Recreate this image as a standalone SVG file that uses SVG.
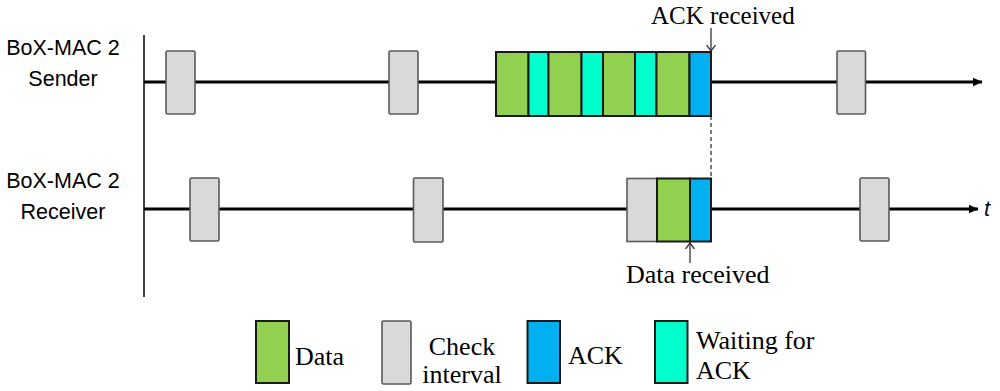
<svg xmlns="http://www.w3.org/2000/svg" width="1000" height="391" viewBox="0 0 1000 391">
<defs>
<style>
.lbl{font-family:"Liberation Sans",Arial,sans-serif;font-size:21.5px;fill:#000;text-anchor:middle}
.ser{font-family:"Liberation Serif","Times New Roman",serif;fill:#000}
.chk{fill:#d9d9d9;stroke:#595959;stroke-width:1.6}
.dat{fill:#92d050;stroke:#1a1a1a;stroke-width:2}
.wait{fill:#00ffcc;stroke:#1a1a1a;stroke-width:2}
.ack{fill:#00b0f0;stroke:#1a1a1a;stroke-width:2}
.axis{stroke:#000;stroke-width:3;fill:none}
.thin{stroke:#333;stroke-width:1.3;fill:none}
</style>
<marker id="tip" markerWidth="10" markerHeight="10" refX="9" refY="5" orient="auto" markerUnits="userSpaceOnUse">
<path d="M0,0.8 L9.5,5 L0,9.2 Z" fill="#000"/>
</marker>
<marker id="open" markerWidth="12" markerHeight="12" refX="6" refY="6" orient="auto" markerUnits="userSpaceOnUse">
<path d="M0,1.5 L6,6 L0,10.5" fill="none" stroke="#333" stroke-width="1.3"/>
</marker>
</defs>
<rect width="1000" height="391" fill="#fff"/>

<g id="labels">
<text class="lbl" x="63" y="55">BoX-MAC 2</text>
<text class="lbl" x="63" y="86">Sender</text>
<text class="lbl" x="63" y="188">BoX-MAC 2</text>
<text class="lbl" x="63" y="219">Receiver</text>
</g>

<g id="connectors">
<line x1="144" y1="35" x2="144" y2="297" stroke="#000" stroke-width="1.5"/>
<line class="axis" x1="144" y1="82" x2="982" y2="82" marker-end="url(#tip)"/>
<line class="axis" x1="144" y1="209" x2="978" y2="209" marker-end="url(#tip)"/>
<line x1="711" y1="116" x2="711" y2="242" stroke="#333" stroke-width="1.3" stroke-dasharray="4,3"/>
<line class="thin" x1="711" y1="28" x2="711" y2="51" marker-end="url(#open)"/>
<line class="thin" x1="690" y1="263" x2="690" y2="243" marker-end="url(#open)"/>
</g>

<g id="sender">
<rect class="chk" x="166" y="51" width="29" height="63" rx="1.5"/>
<rect class="chk" x="389" y="51" width="29" height="63" rx="1.5"/>
<rect class="dat" x="496" y="52" width="32.5" height="64"/>
<rect class="wait" x="528.5" y="52" width="20" height="64"/>
<rect class="dat" x="548.5" y="52" width="33" height="64"/>
<rect class="wait" x="581.5" y="52" width="21.5" height="64"/>
<rect class="dat" x="603" y="52" width="32" height="64"/>
<rect class="wait" x="635" y="52" width="21.5" height="64"/>
<rect class="dat" x="656.5" y="52" width="33" height="64"/>
<rect class="ack" x="689.5" y="52" width="21.5" height="64"/>
<rect class="chk" x="837" y="51" width="28.5" height="63" rx="1.5"/>
</g>

<g id="receiver">
<rect class="chk" x="190" y="178" width="29" height="63" rx="1.5"/>
<rect class="chk" x="413.5" y="178" width="29.5" height="64" rx="1.5"/>
<rect class="chk" x="627" y="178.5" width="30" height="63"/>
<rect class="dat" x="657" y="178.5" width="33" height="63"/>
<rect class="ack" x="690" y="178.5" width="21" height="63"/>
<rect class="chk" x="860" y="178" width="29" height="63" rx="1.5"/>
<text x="984" y="216" font-family="'Liberation Sans',Arial,sans-serif" font-size="22" font-style="italic" fill="#0a0a28">t</text>
</g>

<g id="annotations">
<text class="ser" x="651" y="24" font-size="25">ACK received</text>
<text class="ser" x="626" y="283" font-size="26">Data received</text>
</g>

<g id="legend">
<rect class="dat" x="256" y="321" width="33" height="62" stroke="#555"/>
<text class="ser" x="295" y="365" font-size="26">Data</text>
<rect class="chk" x="382" y="321" width="29" height="63" rx="1.5"/>
<text class="ser" x="462" y="355" font-size="26" text-anchor="middle">Check</text>
<text class="ser" x="462" y="383" font-size="26" text-anchor="middle">interval</text>
<rect class="ack" x="527.5" y="321" width="32.5" height="62" stroke="#555"/>
<text class="ser" x="568" y="364" font-size="26">ACK</text>
<rect class="wait" x="655" y="321" width="32.5" height="62" stroke="#555"/>
<text class="ser" x="696" y="349" font-size="26">Waiting for</text>
<text class="ser" x="696" y="379" font-size="26">ACK</text>
</g>
</svg>
